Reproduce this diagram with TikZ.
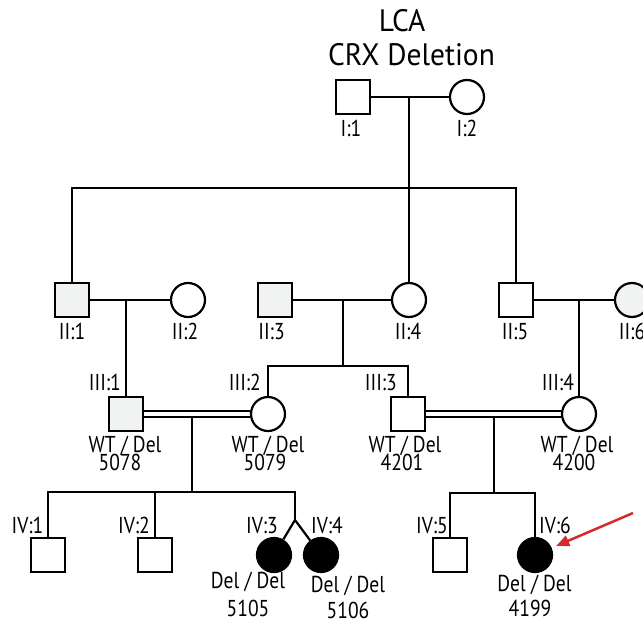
\documentclass[tikz,border=0pt]{standalone}
\usepackage{fontspec}
\setmainfont{PT Sans}
\newfontfamily\labelfont{PT Sans}[FakeStretch=0.85]
\newfontfamily\titlefont{PT Sans}[FakeStretch=0.95]
\usetikzlibrary{arrows.meta,backgrounds}
\definecolor{lightfill}{HTML}{F1F2F2}
\definecolor{arrowred}{HTML}{D7282F}
\begin{document}
\begin{tikzpicture}[x=1pt,y=-1pt,
  line width=2.2pt,
  link/.style={line width=2.2pt, draw=black},
  male/.style={draw, rectangle, minimum size=34pt, inner sep=0pt, fill=white},
  female/.style={draw, circle, minimum size=34pt, inner sep=0pt, fill=white},
  carrier/.style={fill=lightfill},
  affected/.style={fill=black},
  lbl/.style={font=\labelfont\fontsize{23}{25}\selectfont, inner sep=0pt, anchor=base},
  ttl/.style={font=\titlefont\fontsize{31}{34}\selectfont, inner sep=0pt, anchor=base},
  consang/.style={double, double distance=3.5pt, line width=2pt},
  pointer/.style={arrowred, line width=2.5pt, -{Triangle[length=13pt,width=11pt]}, shorten >=5pt}
]
\useasboundingbox (0,0) rectangle (643,621);

% title
\node[ttl] (t1) at (402,31.7) {LCA};
\node[ttl] (t2) at (411.5,65) {CRX Deletion};

% ---------- individuals ----------
% generation I
\node[male] (I1) at (353,97) {};
\node[female] (I2) at (467,97) {};
% generation II
\node[male,carrier] (II1) at (72,300) {};
\node[female] (II2) at (188,300) {};
\node[male,carrier] (II3) at (275,300) {};
\node[female] (II4) at (409,300) {};
\node[male] (II5) at (516,300) {};
\node[female,carrier] (II6) at (632,300) {};
% generation III
\node[male,carrier] (III1) at (126,414) {};
\node[female] (III2) at (268,414) {};
\node[male] (III3) at (408,414) {};
\node[female] (III4) at (579,414) {};
% generation IV
\node[male] (IV1) at (48,555) {};
\node[male] (IV2) at (155,555) {};
\node[female,affected] (IV3) at (274,555) {};
\node[female,affected] (IV4) at (321,555) {};
\node[male] (IV5) at (450,555) {};
\node[female,affected] (IV6) at (535,555) {};

% ---------- labels ----------
\node[lbl] (lI1) at (351,136) {I:1};
\node[lbl] (lI2) at (467,136) {I:2};

\node[lbl] (lII1) at (72,339) {II:1};
\node[lbl] (lII2) at (185,339) {II:2};
\node[lbl] (lII3) at (271.5,339) {II:3};
\node[lbl] (lII4) at (408,339) {II:4};
\node[lbl] (lII5) at (515,339) {II:5};
\node[lbl] (lII6) at (632,339) {II:6};

\node[lbl,anchor=base east] (lIII1) at (122,390) {III:1};
\node[lbl,anchor=base east] (lIII2) at (262,390) {III:2};
\node[lbl,anchor=base east] (lIII3) at (398,390) {III:3};
\node[lbl,anchor=base east] (lIII4) at (575,390) {III:4};

\node[lbl] (gIII1) at (125,452.7) {WT / Del};
\node[lbl] (nIII1) at (120,470.7) {5078};
\node[lbl] (gIII2) at (268,452.7) {WT / Del};
\node[lbl] (nIII2) at (265,470.7) {5079};
\node[lbl] (gIII3) at (405,452.7) {WT / Del};
\node[lbl] (nIII3) at (402,470.7) {4201};
\node[lbl] (gIII4) at (577,452.7) {WT / Del};
\node[lbl] (nIII4) at (574,470.7) {4200};

\node[lbl] (lIV1) at (27.5,533) {IV:1};
\node[lbl] (lIV2) at (134,533) {IV:2};
\node[lbl] (lIV3) at (262,533) {IV:3};
\node[lbl] (lIV4) at (327,533) {IV:4};
\node[lbl] (lIV5) at (432,533) {IV:5};
\node[lbl] (lIV6) at (555,533) {IV:6};

\node[lbl] (gIV3) at (248,588.5) {Del / Del};
\node[lbl] (nIV3) at (248,616) {5105};
\node[lbl] (gIV4) at (348,592) {Del / Del};
\node[lbl] (nIV4) at (348,618.5) {5106};
\node[lbl] (gIV6) at (534.5,591) {Del / Del};
\node[lbl] (nIV6) at (530,616) {4199};

% ---------- connectors (behind the symbols) ----------
\coordinate (m1) at (409,97);
\coordinate (s1) at (409,188);
\coordinate (c1) at (126,300);
\coordinate (c2) at (343,300);
\coordinate (s2) at (343,366);
\coordinate (c3) at (579,300);
\coordinate (d1) at (192,416);
\coordinate (s4) at (192,492);
\coordinate (tw) at (295,520);
\coordinate (d2) at (494,416);
\coordinate (s5) at (494,493);

\begin{scope}[on background layer]
\draw[link] (I1) -- (I2);
\draw[link] (m1) -- (s1);
\draw[link] (II1.north) -- (II1.north |- s1) -- (II5.north |- s1) -- (II5.north);
\draw[link] (s1) -- (II4.north);

\draw[link] (II1) -- (II2);
\draw[link] (II3) -- (II4);
\draw[link] (II5) -- (II6);

\draw[link] (c1) -- (III1.north);
\draw[link] (c2) -- (s2);
\draw[link] (III2.north) -- (III2.north |- s2) -- (III3.north |- s2) -- (III3.north);
\draw[link] (c3) -- (III4.north);

\draw[consang] (III1) -- (III2);
\draw[consang] (III3) -- (III4);

\draw[link] (d1) -- (s4);
\draw[link] (IV1.north) -- (IV1.north |- s4) -- (tw |- s4) -- (tw);
\draw[link] (IV2.north) -- (IV2.north |- s4);
\draw[link] (IV3) -- (tw) -- (IV4);

\draw[link] (d2) -- (s5);
\draw[link] (IV5.north) -- (IV5.north |- s5) -- (IV6.north |- s5) -- (IV6.north);
\end{scope}

% proband arrow
\coordinate (arrowtail) at (633,513);
\draw[pointer] (arrowtail) -- (IV6);
\end{tikzpicture}
\end{document}
